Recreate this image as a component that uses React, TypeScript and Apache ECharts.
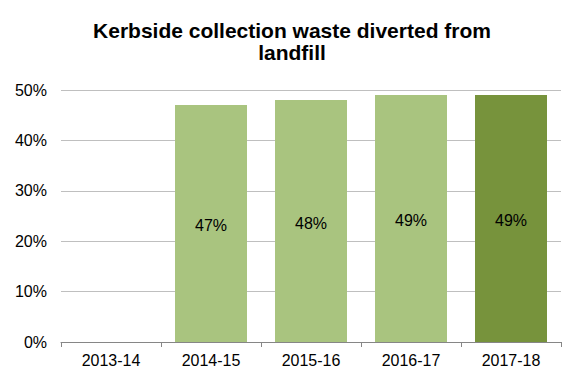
import React, { useEffect, useRef } from "react";
import * as echarts from "echarts";

const categories = ["2013-14", "2014-15", "2015-16", "2016-17", "2017-18"];
const values: (number | null)[] = [null, 47, 48, 49, 49];
const barColors = ["#A9C47F", "#A9C47F", "#A9C47F", "#A9C47F", "#77933C"];
const yTicks = [0, 10, 20, 30, 40, 50];

export default function App() {
  const ref = useRef<HTMLDivElement>(null);
  useEffect(() => {
    if (!ref.current) return;
    const chart = echarts.init(ref.current, null, { renderer: "svg" });
    chart.setOption({
      animation: false,
      backgroundColor: "#ffffff",
      title: {
        text: "Kerbside collection waste diverted from\nlandfill",
        left: "center",
        top: 14,
        textStyle: {
          fontFamily: "Liberation Sans, Arial, sans-serif",
          fontWeight: "bold",
          fontSize: 21,
          lineHeight: 22,
          color: "#000000",
        },
      },
      grid: { left: 61, right: 23, top: 90, bottom: 42 },
      xAxis: {
        type: "category",
        data: categories,
        axisLine: { lineStyle: { color: "#868686", width: 1 } },
        axisTick: { show: true, alignWithLabel: false, length: 5, lineStyle: { color: "#868686" } },
        axisLabel: {
          color: "#000000",
          fontSize: 16,
          fontFamily: "Liberation Sans, Arial, sans-serif",
          margin: 10,
        },
      },
      yAxis: {
        type: "value",
        min: yTicks[0],
        max: yTicks[yTicks.length - 1],
        interval: 10,
        axisLine: { show: false },
        axisTick: { show: false },
        splitLine: { lineStyle: { color: "#BFBFBF", width: 1 } },
        axisLabel: {
          formatter: "{value}%",
          color: "#000000",
          fontSize: 16,
          fontFamily: "Liberation Sans, Arial, sans-serif",
          margin: 14,
        },
      },
      series: [
        {
          type: "bar",
          data: values.map((v, i) => ({
            value: v,
            itemStyle: { color: barColors[i] },
          })),
          barCategoryGap: "28%",
          label: {
            show: true,
            position: "inside",
            offset: [0, 2],
            formatter: (p: any) => (p.value == null ? "" : p.value + "%"),
            color: "#000000",
            fontSize: 16,
            fontFamily: "Liberation Sans, Arial, sans-serif",
          },
        },
      ],
    });
    return () => chart.dispose();
  }, []);
  return (
    <div
      ref={ref}
      style={{ position: "fixed", left: 0, top: 0, width: 584, height: 384 }}
    />
  );
}
